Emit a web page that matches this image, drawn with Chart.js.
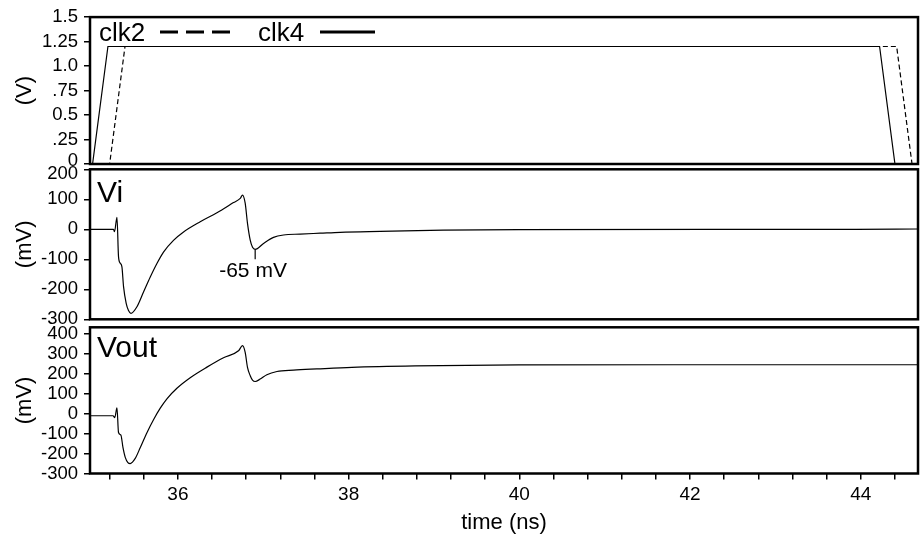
<!DOCTYPE html>
<html><head><meta charset="utf-8">
<script src="https://cdn.jsdelivr.net/npm/chart.js@4"></script>
<style>
html,body{margin:0;padding:0;background:#fff;}
#wrap{position:relative;width:922px;height:538px;background:#fff;}
canvas{position:absolute;left:0;top:0;}
</style></head><body>
<div id="wrap">
<canvas id="c1" width="922" height="538"></canvas>
<canvas id="c2" width="922" height="538"></canvas>
<canvas id="c3" width="922" height="538"></canvas>
</div>
<script>
// ---- data (time in ns) ----
const clk4T = [34.97, 35.0, 35.18, 44.22, 44.40, 44.67];
const clk4V = [0, 0, 1.2, 1.2, 0, 0];
const clk2T = [34.97, 35.2, 35.38, 44.42, 44.60, 44.67];
const clk2V = [0, 0, 1.2, 1.2, 0, 0];

const viT = [34.97, 35.245, 35.257, 35.286, 35.304, 35.324, 35.344, 35.363, 35.394, 35.421, 35.449,
  35.52, 35.597, 35.676, 35.754, 35.831, 35.948, 36.066, 36.261, 36.457, 36.651, 36.73, 36.757,
  36.788, 36.815, 36.847, 36.874, 36.905, 37.003, 37.12, 37.237, 37.432, 37.667, 37.9, 38.37,
  39.107, 39.993, 43.945, 44.67];
const viV = [0, 0, -8, 40, -91, -113, -125, -191, -247, -271, -280,
  -258, -209, -159, -114, -76, -37, -9, 25, 55, 89, 103, 114,
  87, 20, -36, -60, -67, -47, -27, -19, -16, -13, -10, -7,
  -3, -1, 0, 1];

const voutT = [34.97, 35.24, 35.26, 35.286, 35.304, 35.332, 35.356, 35.383, 35.414, 35.441,
  35.5, 35.558, 35.637, 35.714, 35.793, 35.871, 35.988, 36.144, 36.34, 36.534, 36.71, 36.757,
  36.788, 36.815, 36.847, 36.874, 36.905, 36.964, 37.042, 37.16, 37.354, 37.628, 38.038, 38.78,
  39.993, 41.808, 44.67];
const voutV = [-10, -10, -19, 29, -94, -107, -169, -219, -245, -250,
  -224, -171, -95, -30, 28, 75, 128, 181, 234, 281, 316, 342,
  308, 233, 191, 169, 162, 174, 196, 212, 219, 225, 233, 240,
  245, 246, 246];

const clkTickLabels = ['0', '.25', '0.5', '.75', '1.0', '1.25', '1.5'];
const xMajorTicks = [36, 38, 40, 42, 44];
const annot = { t: 36.905, v: -67, tickEnd: -100, text: '-65 mV', textT: 36.88, textV: -141 };

// ---- setup ----
const FONT = '"Liberation Sans", Arial, Helvetica, sans-serif';
Chart.defaults.font.family = FONT;
Chart.defaults.color = '#000';
const X_MIN = 34.97, X_MAX = 44.67;
const YFS = 18.5;
const pts = (T, V) => T.map((t, i) => ({ x: t, y: V[i] }));

const framePlugin = {
  id: 'frame',
  afterDraw(chart) {
    const { ctx, chartArea: a } = chart;
    ctx.save();
    ctx.strokeStyle = '#000';
    ctx.lineWidth = 2.5;
    ctx.strokeRect(a.left, a.top, a.right - a.left, a.bottom - a.top);
    ctx.restore();
  }
};

function textPlugin(id, fn) { return { id, afterDraw: fn }; }

function yAxis(cfg) {
  return Object.assign({
    type: 'linear',
    afterFit: s => { s.width = 90; },
    border: { display: false },
    grid: { drawOnChartArea: false, drawTicks: true, tickLength: 6, color: '#000', lineWidth: 1.5 },
    title: { display: true, text: cfg.title, font: { size: 22 }, padding: { top: 12, bottom: 0 } }
  }, cfg.extra);
}

function hiddenX() {
  return { type: 'linear', min: X_MIN, max: X_MAX, display: false };
}

const commonOpts = {
  responsive: false, animation: false, events: [],
  plugins: { legend: { display: false }, tooltip: { enabled: false } }
};

// ---- top panel: clocks ----
new Chart(document.getElementById('c1'), {
  type: 'line',
  data: { datasets: [
    { data: pts(clk4T, clk4V), borderColor: '#000', borderWidth: 1.2, pointRadius: 0, tension: 0 },
    { data: pts(clk2T, clk2V), borderColor: '#000', borderWidth: 1.2, borderDash: [5, 3], pointRadius: 0, tension: 0 }
  ] },
  options: Object.assign({}, commonOpts, {
    layout: { padding: { left: 0, right: 4, top: 14.5, bottom: 374 } },
    scales: {
      x: hiddenX(),
      y: yAxis({ title: '(V)', extra: {
        min: 0, max: 1.5,
        ticks: {
          stepSize: 0.25, padding: 6, autoSkip: false,
          callback: (v, i) => i === 0 ? [clkTickLabels[i], ''] : clkTickLabels[i],
          font: c => (c.index === 0 ? { size: YFS, lineHeight: '6px' } : { size: YFS })
        }
      } })
    }
  }),
  plugins: [framePlugin, textPlugin('clkLegend', chart => {
    const ctx = chart.ctx;
    ctx.save();
    ctx.fillStyle = '#000'; ctx.strokeStyle = '#000';
    ctx.font = '26px ' + FONT;
    ctx.textBaseline = 'alphabetic'; ctx.textAlign = 'left';
    ctx.fillText('clk2', 99, 41);
    ctx.fillText('clk4', 258, 41);
    ctx.lineWidth = 3;
    ctx.setLineDash([18, 8]);
    ctx.beginPath(); ctx.moveTo(160, 32); ctx.lineTo(230, 32); ctx.stroke();
    ctx.setLineDash([]);
    ctx.beginPath(); ctx.moveTo(320, 32); ctx.lineTo(375, 32); ctx.stroke();
    ctx.restore();
  })]
});

// ---- middle panel: Vi ----
new Chart(document.getElementById('c2'), {
  type: 'line',
  data: { datasets: [
    { data: pts(viT, viV), borderColor: '#000', borderWidth: 1.2, pointRadius: 0, cubicInterpolationMode: 'monotone' }
  ] },
  options: Object.assign({}, commonOpts, {
    layout: { padding: { left: 0, right: 4, top: 169.3, bottom: 218.7 } },
    scales: {
      x: hiddenX(),
      y: yAxis({ title: '(mV)', extra: {
        min: -300, max: 200,
        ticks: {
          stepSize: 100, padding: 6, autoSkip: false,
          callback: v => v === 200 ? ['', '200'] : String(v),
          font: c => (c.tick && c.tick.value === 200 ? { size: YFS, lineHeight: '10px' } : { size: YFS })
        }
      } })
    }
  }),
  plugins: [framePlugin, textPlugin('viText', chart => {
    const { ctx, chartArea: a, scales } = chart;
    ctx.save();
    ctx.fillStyle = '#000'; ctx.strokeStyle = '#000';
    ctx.font = '30px ' + FONT;
    ctx.textAlign = 'left'; ctx.textBaseline = 'alphabetic';
    ctx.fillText('Vi', a.left + 7, a.top + 32.5);
    const x = scales.x.getPixelForValue(annot.t);
    ctx.lineWidth = 1.2;
    ctx.beginPath();
    ctx.moveTo(x, scales.y.getPixelForValue(annot.v));
    ctx.lineTo(x, scales.y.getPixelForValue(annot.tickEnd));
    ctx.stroke();
    ctx.font = '21px ' + FONT;
    ctx.textAlign = 'center'; ctx.textBaseline = 'middle';
    ctx.fillText(annot.text, scales.x.getPixelForValue(annot.textT), scales.y.getPixelForValue(annot.textV));
    ctx.restore();
  })]
});

// ---- bottom panel: Vout ----
new Chart(document.getElementById('c3'), {
  type: 'line',
  data: { datasets: [
    { data: pts(voutT, voutV), borderColor: '#000', borderWidth: 1.2, pointRadius: 0, cubicInterpolationMode: 'monotone' }
  ] },
  options: Object.assign({}, commonOpts, {
    layout: { padding: { left: 0, right: 4, top: 327.3, bottom: 0 } },
    scales: {
      x: {
        type: 'linear', min: X_MIN, max: X_MAX,
        afterFit: s => { s.height = 64.5; },
        border: { display: false },
        grid: { drawOnChartArea: false, drawTicks: true, tickLength: 6, color: '#000', lineWidth: 1.5 },
        ticks: {
          stepSize: 0.4, includeBounds: false, autoSkip: false, maxRotation: 0, padding: 4,
          font: { size: 19 },
          callback: v => {
            const m = xMajorTicks.find(t => Math.abs(t - v) < 1e-6);
            return m !== undefined ? String(m) : '';
          }
        },
        title: { display: true, text: 'time (ns)', font: { size: 22 }, padding: { top: 0, bottom: 2 } }
      },
      y: yAxis({ title: '(mV)', extra: {
        min: -300, max: 434,
        ticks: { stepSize: 100, includeBounds: false, autoSkip: false, padding: 6, font: { size: YFS } }
      } })
    }
  }),
  plugins: [framePlugin, textPlugin('voutText', chart => {
    const { ctx, chartArea: a } = chart;
    ctx.save();
    ctx.fillStyle = '#000';
    ctx.font = '30px ' + FONT;
    ctx.textAlign = 'left'; ctx.textBaseline = 'alphabetic';
    ctx.fillText('Vout', a.left + 7, a.top + 29.7);
    ctx.restore();
  })]
});
</script>
</body></html>
